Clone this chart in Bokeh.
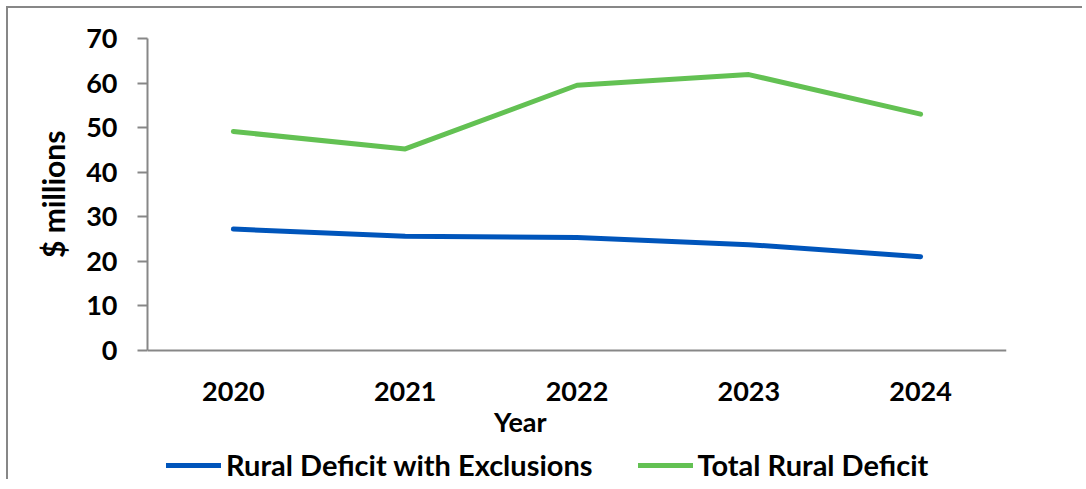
from bokeh.plotting import figure
from bokeh.models import Range1d, FixedTicker, Legend, LegendItem, LinearAxis, Label
from bokeh.embed import file_html
from bokeh.resources import INLINE

years = ["2020", "2021", "2022", "2023", "2024"]
total_rural_deficit = [49.1, 45.2, 59.5, 61.9, 53.0]
deficit_with_exclusions = [27.2, 25.6, 25.3, 23.7, 21.0]
y_ticks = [0, 10, 20, 30, 40, 50, 60, 70]

FONT = "Lato"
GRAY = "#878787"
BLUE = "#0055BB"
GREEN = "#63C153"

xs = list(range(len(years)))

# frame runs down to the bottom so the legend and the axis title below the x axis stay visible
p = figure(width=1076, height=473, output_backend="svg", toolbar_location=None,
           x_range=Range1d(-0.5, len(years) - 0.5), y_range=Range1d(-29.5, 70),
           min_border_left=139, min_border_right=78, min_border_top=30, min_border_bottom=0)
p.styles = {"border-top": f"2px solid {GRAY}", "border-left": f"2px solid {GRAY}",
            "margin-left": "6px", "margin-top": "6px"}
p.outline_line_color = None
p.grid.grid_line_color = None
p.background_fill_color = "white"
p.border_fill_color = "white"

r1 = p.line(xs, deficit_with_exclusions, line_color=BLUE, line_width=5, line_cap="round", line_join="round")
r2 = p.line(xs, total_rural_deficit, line_color=GREEN, line_width=5, line_cap="round", line_join="round")

xa = p.xaxis[0]
xa.fixed_location = 0
xa.ticker = FixedTicker(ticks=xs)
xa.major_label_overrides = {i: y for i, y in enumerate(years)}
xa.major_tick_line_color = None
xa.major_tick_out = 0
xa.major_tick_in = 0
xa.minor_tick_line_color = None
xa.axis_line_color = GRAY
xa.axis_line_width = 2
xa.major_label_text_font = FONT
xa.major_label_text_font_style = "bold"
xa.major_label_text_font_size = "27px"
xa.major_label_text_color = "black"
xa.major_label_standoff = 32

ya = p.yaxis[0]
ya.bounds = (0, 70)
ya.ticker = FixedTicker(ticks=y_ticks)
ya.minor_tick_line_color = None
ya.axis_line_color = GRAY
ya.axis_line_width = 2
ya.major_tick_line_color = GRAY
ya.major_tick_line_width = 2
ya.major_tick_out = 10
ya.major_tick_in = 0
ya.major_label_text_font = FONT
ya.major_label_text_font_style = "bold"
ya.major_label_text_font_size = "27px"
ya.major_label_text_color = "black"
ya.major_label_standoff = 20

# y axis title, centred on the 0-70 span
ytitle_axis = LinearAxis(ticker=FixedTicker(ticks=[35]), major_label_overrides={35: "$ millions"},
                         axis_line_color=None, major_tick_line_color=None, minor_tick_line_color=None,
                         major_tick_out=0, major_tick_in=0, major_label_standoff=12,
                         major_label_orientation="vertical",
                         major_label_text_font=FONT, major_label_text_font_style="bold",
                         major_label_text_font_size="30px", major_label_text_color="black")
p.add_layout(ytitle_axis, "left")

year_label = Label(x=1.67, y=-16.1, text="Year", text_font=FONT, text_font_style="bold",
                   text_font_size="27px", text_color="black", text_align="center",
                   text_baseline="middle")
p.add_layout(year_label)

legend = Legend(items=[LegendItem(label="Rural Deficit with Exclusions", renderers=[r1]),
                       LegendItem(label="Total Rural Deficit", renderers=[r2])],
                location=(19, -1), orientation="horizontal",
                glyph_width=55, glyph_height=20, label_standoff=5, spacing=45,
                padding=0, margin=0, border_line_color=None, background_fill_alpha=0,
                label_text_font=FONT, label_text_font_style="bold",
                label_text_font_size="29px", label_text_color="black")
p.add_layout(legend)

open("out.html", "w").write(file_html(p, INLINE))
